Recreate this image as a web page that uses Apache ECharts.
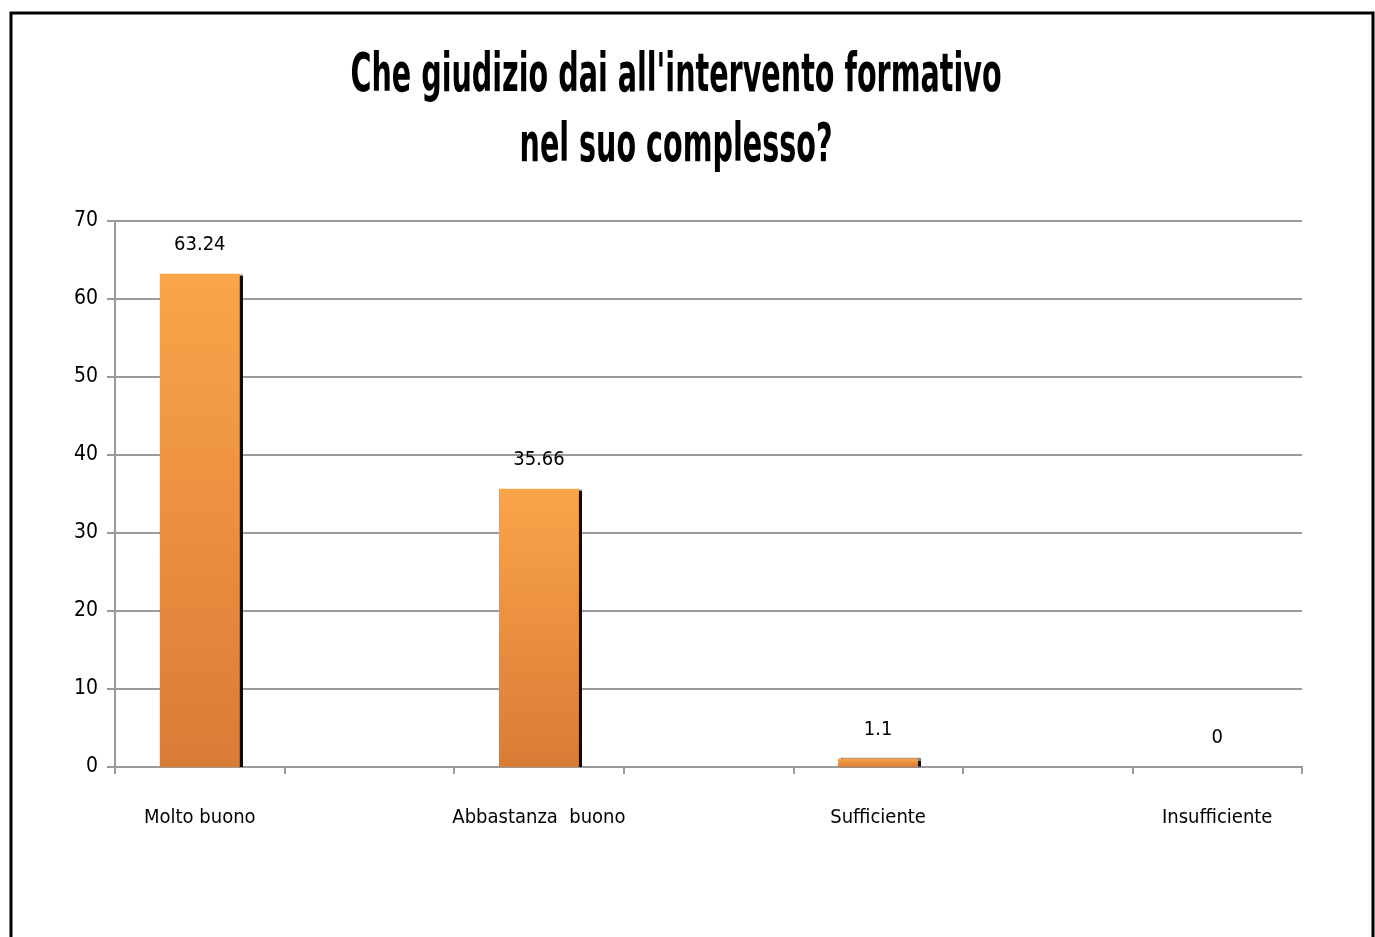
<!DOCTYPE html>
<html>
<head>
<meta charset="utf-8">
<script src="https://cdn.jsdelivr.net/npm/echarts@6/dist/echarts.min.js"></script>
<style>
html,body{margin:0;padding:0;background:#fff;}
#c{width:1375px;height:937px;}
</style>
</head>
<body>
<div id="c"></div>
<script>
const titleLines = ["Che giudizio dai all'intervento formativo", "nel suo complesso?"];
const categories = ['Molto buono', 'Abbastanza  buono', 'Sufficiente', 'Insufficiente'];
const values = [63.24, 35.66, 1.1, 0];
const yTicks = [0, 10, 20, 30, 40, 50, 60, 70];

// The original axis has an empty slot between each pair of categories
const axisCats = [];
const axisVals = [];
categories.forEach((c, i) => {
  axisCats.push(c);
  axisVals.push(values[i]);
  if (i < categories.length - 1) { axisCats.push(''); axisVals.push('-'); }
});

const FONT = '"Liberation Sans Narrow", "DejaVu Sans Condensed", sans-serif';
const titleGraphics = titleLines.map((t, i) => ({
  type: 'text',
  x: 676,
  y: 77 + i * 70,
  scaleX: 0.6,
  silent: true,
  style: {
    text: t,
    fill: '#000',
    font: 'bold 53px "DejaVu Sans Condensed", sans-serif',
    textAlign: 'center',
    textVerticalAlign: 'middle'
  }
}));

const chart = echarts.init(document.getElementById('c'));
chart.setOption({
  backgroundColor: '#fff',
  animation: false,
  graphic: titleGraphics.concat([{
    type: 'rect',
    shape: { x: 11, y: 13, width: 1362, height: 940 },
    style: { fill: 'none', stroke: '#000', lineWidth: 3 },
    silent: true, z: 100
  }]),
  grid: { left: 115, right: 73, top: 221, bottom: 170, containLabel: false },
  xAxis: {
    type: 'category',
    data: axisCats,
    boundaryGap: true,
    axisLine: { show: true, lineStyle: { color: '#9a9a9a', width: 2 } },
    axisTick: { show: true, interval: 0, length: 7, lineStyle: { color: '#9a9a9a', width: 2 } },
    axisLabel: { interval: 0, margin: 41, fontFamily: FONT, fontSize: 20, color: '#000' }
  },
  yAxis: {
    type: 'value',
    min: yTicks[0],
    max: yTicks[yTicks.length - 1],
    interval: 10,
    axisLine: { show: true, lineStyle: { color: '#9a9a9a', width: 2 } },
    axisTick: { show: true, length: 8, lineStyle: { color: '#9a9a9a', width: 2 } },
    axisLabel: { margin: 17, fontFamily: FONT, fontSize: 21, color: '#000' },
    splitLine: { show: true, lineStyle: { color: '#9a9a9a', width: 2 } }
  },
  series: [{
    type: 'bar',
    data: axisVals,
    barWidth: 80,
    itemStyle: {
      color: new echarts.graphic.LinearGradient(0, 0, 0, 1, [
        { offset: 0, color: '#fba449' },
        { offset: 1, color: '#d97c36' }
      ]),
      shadowColor: 'rgba(0,0,0,0.95)',
      shadowOffsetX: 3,
      shadowOffsetY: 0,
      shadowBlur: 1
    },
    label: {
      show: true,
      position: 'top',
      distance: 19,
      fontFamily: FONT,
      fontSize: 20,
      color: '#000',
      formatter: p => String(p.value)
    }
  }]
});
</script>
</body>
</html>
